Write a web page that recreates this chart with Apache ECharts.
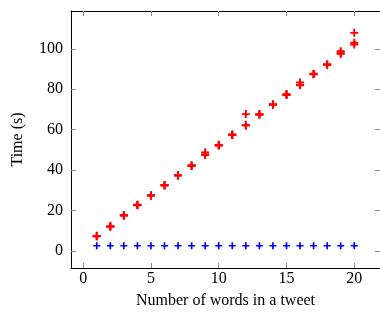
<!DOCTYPE html>
<html lang="en">
<head>
    <meta charset="UTF-8">
    <title>Time vs words</title>
    <script src="https://cdn.jsdelivr.net/npm/echarts@6/dist/echarts.min.js"></script>
</head>
<body style="margin: 0">
<div id="chart" style="width: 380px;height: 314px"></div>
<script>
    // words per tweet
    let words = [1, 2, 3, 4, 5, 6, 7, 8, 9, 10, 11, 12, 13, 14, 15, 16, 17, 18, 19, 20]
    // red runs (time in s)
    let timeRun1 = [7.5, 12.3, 17.5, 22.6, 27.6, 32.4, 37.5, 42.1, 47.5, 52.2, 57.4, 62.0, 67.4, 72.5, 77.1, 82.0, 87.4, 92.1, 97.5, 102.1]
    let timeRun2 = [7.2, 12.0, 17.8, 22.9, 27.3, 32.7, 37.3, 42.4, 48.8, 52.5, 57.6, 62.4, 67.7, 72.3, 77.6, 83.4, 87.7, 92.3, 98.8, 103.0]
    let timeRun3 = [7.4, 12.2, 17.6, 22.7, 27.5, 32.5, 37.4, 42.2, 47.8, 52.3, 57.5, 67.7, 67.5, 72.6, 77.3, 82.2, 87.5, 92.2, 97.8, 107.9]
    // blue runs
    let timeBlue1 = [2.6, 2.6, 2.6, 2.6, 2.6, 2.6, 2.6, 2.6, 2.6, 2.6, 2.6, 2.6, 2.6, 2.6, 2.6, 2.6, 2.6, 2.6, 2.6, 2.6]
    let xTicks = [0, 5, 10, 15, 20]
    let yTicks = [0, 20, 40, 60, 80, 100]

    const plus = 'path://M3.8,0H6.2V3.8H10V6.2H6.2V10H3.8V6.2H0V3.8H3.8Z'
    const font = 'Liberation Serif'

    function pairs(ys) {
        return words.map((w, i) => [w, ys[i]])
    }

    function redSeries(ys) {
        return {
            type: 'scatter',
            data: pairs(ys),
            symbol: plus,
            symbolSize: 8,
            itemStyle: {color: '#ff0000', opacity: 1},
            silent: true
        }
    }

    let axisBase = {
        axisLine: {show: true, onZero: false, lineStyle: {color: '#000', width: 1}},
        axisTick: {show: true, inside: true, length: 5, lineStyle: {color: '#8a8a8a'}},
        splitLine: {show: false}
    }

    let chart = echarts.init(document.getElementById('chart'))
    let option = {
        animation: false,
        grid: {left: 71, right: -3, top: 11, bottom: 45},
        xAxis: [
            Object.assign({}, axisBase, {
                type: 'value', min: -0.9, max: 21.9, position: 'bottom',
                name: 'Number of words in a tweet', nameLocation: 'middle', nameGap: 25,
                nameTextStyle: {fontFamily: font, fontSize: 16, color: '#000'},
                axisTick: Object.assign({}, axisBase.axisTick, {customValues: xTicks}),
                axisLabel: {customValues: xTicks, fontFamily: font, fontSize: 16, color: '#000', margin: 3}
            }),
            Object.assign({}, axisBase, {
                type: 'value', min: -0.9, max: 21.9, position: 'top',
                axisTick: Object.assign({}, axisBase.axisTick, {customValues: xTicks}),
                axisLabel: {show: false}
            })
        ],
        yAxis: [
            Object.assign({}, axisBase, {
                type: 'value', min: -8.4, max: 118.7, position: 'left',
                name: 'Time (s)', nameLocation: 'middle', nameGap: 45,
                nameTextStyle: {fontFamily: font, fontSize: 16, color: '#000'},
                axisTick: Object.assign({}, axisBase.axisTick, {customValues: yTicks}),
                axisLabel: {customValues: yTicks, fontFamily: font, fontSize: 16, color: '#000', margin: 8}
            }),
            Object.assign({}, axisBase, {
                type: 'value', min: -8.4, max: 118.7, position: 'right',
                axisTick: Object.assign({}, axisBase.axisTick, {customValues: yTicks}),
                axisLabel: {show: false}
            })
        ],
        series: [
            redSeries(timeRun1),
            redSeries(timeRun2),
            redSeries(timeRun3),
            {
                type: 'scatter',
                data: pairs(timeBlue1),
                symbol: plus,
                symbolSize: 7,
                itemStyle: {color: '#0000ff', opacity: 1},
                silent: true
            }
        ]
    }
    chart.setOption(option)
</script>
</body>
</html>
